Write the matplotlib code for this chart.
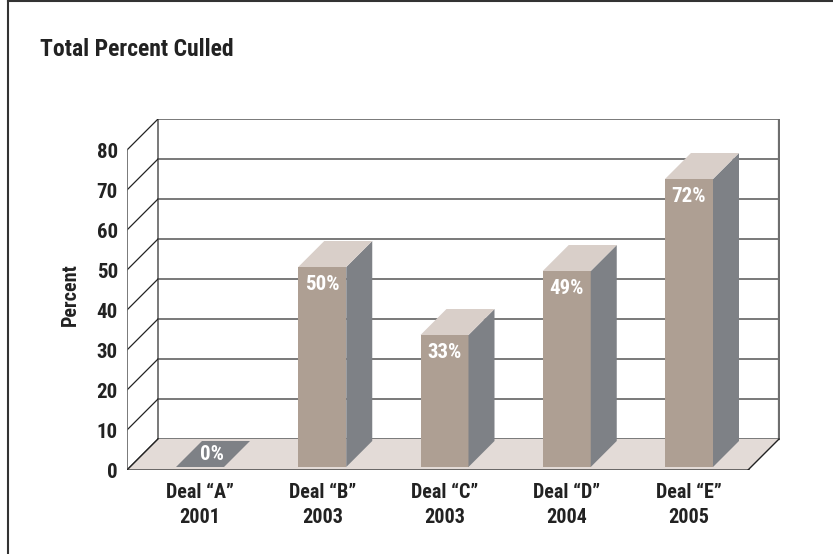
import matplotlib.pyplot as plt
from matplotlib.patches import Polygon
from matplotlib.lines import Line2D

deals = ['Deal \u201cA\u201d', 'Deal \u201cB\u201d', 'Deal \u201cC\u201d', 'Deal \u201cD\u201d', 'Deal \u201cE\u201d']
years = ['2001', '2003', '2003', '2004', '2005']
percent = [0, 50, 33, 49, 72]
yticks = [0, 10, 20, 30, 40, 50, 60, 70, 80]

plt.rcParams['font.family'] = ['Roboto Condensed', 'Archivo Narrow', 'DejaVu Sans']

W, H = 833, 554
fig = plt.figure(figsize=(W / 100, H / 100), dpi=100)

# axes placed in pixels: front plane left at 127, bottom (0) at 470
left_px, right_px, bot_px, top_px = 127, 780, 470, 119
ax = fig.add_axes([left_px / W, 1 - bot_px / H, (right_px - left_px) / W, (bot_px - top_px) / H])
step = 122.25              # px per category
ppu = 4.0                  # px per percent
x0 = -70 / step
ax.set_xlim(x0, x0 + (right_px - left_px) / step)
ax.set_ylim(0, (bot_px - top_px) / ppu)
for s in ax.spines.values():
    s.set_visible(False)


def off(x, y, d):
    # shift a point back into depth by d pixels
    return (x + d / step, y + d / ppu)


wall = 31     # wall depth px
ymax = 80
xr = x0 + (748 - left_px) / step   # floor front right

grid = '#6e6e6e'
ink = '#222222'

# floor
floor = [(x0, 0), (xr, 0), off(xr, 0, wall), off(x0, 0, wall)]
ax.add_patch(Polygon(floor, closed=True, facecolor='#e3dbd7', edgecolor='none', zorder=1))

# back wall grid lines and side diagonals
bx0 = off(x0, 0, wall)[0]
bxr = off(xr, 0, wall)[0]
for v in yticks:
    yb = off(x0, v, wall)[1]
    ax.add_line(Line2D([bx0, bxr], [yb, yb], color=grid, lw=1.3, zorder=0.5))
    ax.add_line(Line2D([x0, bx0], [v, yb], color=ink, lw=0.9, zorder=0.6))
ax.add_line(Line2D([bx0, bx0], [off(x0, 0, wall)[1], off(x0, ymax, wall)[1]], color=grid, lw=1.3, zorder=0.5))
ax.add_line(Line2D([bxr, bxr], [off(x0, 0, wall)[1], off(x0, ymax, wall)[1]], color=grid, lw=1.6, zorder=0.5))
ax.add_line(Line2D([x0, x0], [0, ymax], color=grid, lw=1.3, zorder=2))
# floor edges
ax.add_line(Line2D([x0, xr], [0, 0], color='#444444', lw=1.8, zorder=5))
ax.add_line(Line2D([xr, bxr], [0, off(xr, 0, wall)[1]], color=ink, lw=1.0, zorder=5))
ax.add_line(Line2D([x0, bx0], [0, off(x0, 0, wall)[1]], color=ink, lw=1.0, zorder=5))

# bars
front_c = '#ae9f93'
top_c = '#d9cfc9'
side_c = '#7e8186'
bw = 48 / step
d0, d1 = 3, 29
for i, v in enumerate(percent):
    xa = i + d0 / step - bw / 2
    xb = xa + bw
    ya = d0 / ppu
    yt = ya + v
    dd = d1 - d0
    if v == 0:
        p = [(xa, ya), (xb, ya), off(xb, ya, dd), off(xa, ya, dd)]
        ax.add_patch(Polygon(p, closed=True, facecolor=side_c, edgecolor='none', zorder=3))
        ax.text(i + 15 / step, ya + 3.0, '0%', color='white', fontsize=15, fontweight='bold',
                ha='center', va='center', zorder=6)
        continue
    ax.add_patch(Polygon([(xa, ya), (xb, ya), (xb, yt), (xa, yt)], closed=True,
                         facecolor=front_c, edgecolor='none', zorder=3))
    ax.add_patch(Polygon([(xb, ya), off(xb, ya, dd), off(xb, yt, dd), (xb, yt)], closed=True,
                         facecolor=side_c, edgecolor='none', zorder=3))
    ax.add_patch(Polygon([(xa, yt), (xb, yt), off(xb, yt, dd), off(xa, yt, dd)], closed=True,
                         facecolor=top_c, edgecolor='none', zorder=3))
    ax.text(i + d0 / step, yt - 4.3, '%d%%' % v, color='white', fontsize=15, fontweight='bold',
            ha='center', va='center', zorder=6)

ax.set_yticks(yticks)
ax.set_yticklabels([str(t) for t in yticks], fontsize=15, fontweight='bold', color=ink)
ax.set_xticks([i + d0 / step for i in range(len(deals))])
ax.set_xticklabels([d + '\n' + y for d, y in zip(deals, years)], fontsize=14.5, fontweight='bold',
                   color=ink, linespacing=1.45)
ax.tick_params(axis='y', length=0, pad=6.5)
ax.tick_params(axis='x', length=0, pad=9)
ax.set_ylabel('Percent', fontsize=14.5, fontweight='bold', color=ink, labelpad=12)

fig.text(40 / W, 1 - 49 / H, 'Total Percent Culled', fontsize=17, fontweight='bold',
         color=ink, ha='left', va='center')

# page border lines (top and left)
fig.add_artist(Line2D([8 / W, 1], [1 - 1 / H, 1 - 1 / H], color='#333333', lw=1.5, transform=fig.transFigure))
fig.add_artist(Line2D([8 / W, 8 / W], [0, 1 - 1 / H], color='#333333', lw=1.5, transform=fig.transFigure))

fig.savefig('out.png', dpi=100, facecolor='white')
